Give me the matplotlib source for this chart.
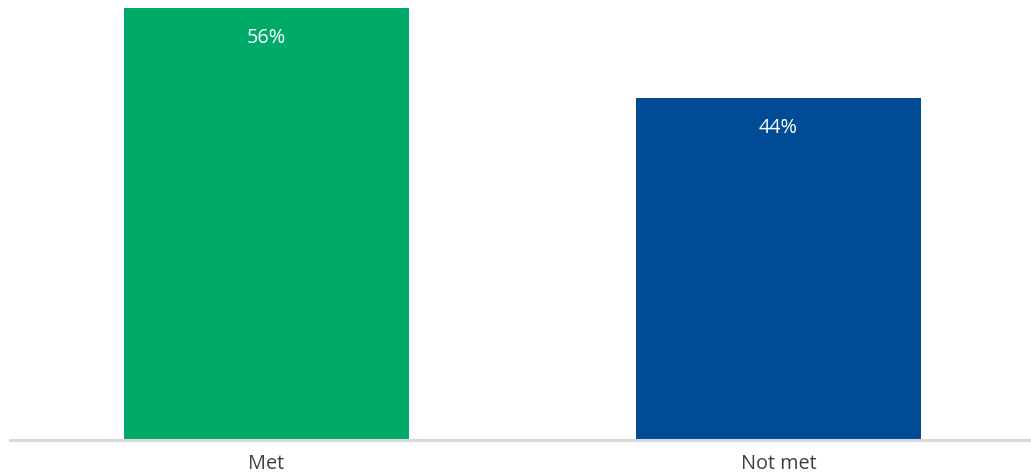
import matplotlib
matplotlib.use("Agg")
import matplotlib.pyplot as plt

categories = ["Met", "Not met"]
values = [55.8, 44.2]
colors = ["#00AB69", "#004B95"]

plt.rcParams['font.family'] = ['Open Sans', 'DejaVu Sans']

W, H = 1031, 477
fig = plt.figure(figsize=(W / 100, H / 100), dpi=100)
left = 10 / W
right = 1031 / W
bottom = (H - 440.5) / H
top = (H - 9) / H
ax = fig.add_axes([left, bottom, right - left, top - bottom])

x = list(range(len(categories)))
bars = ax.bar(x, values, width=0.557, color=colors, zorder=1)

ax.set_xlim(-0.501, 1.493)
ax.set_ylim(0, max(values))

for b, v in zip(bars, values):
    ax.annotate(f"{v:.0f}%", xy=(b.get_x() + b.get_width() / 2, v),
                xytext=(0, -21), textcoords="offset points",
                ha="center", va="center", color="white", fontsize=14.3)

ax.set_xticks(x)
ax.set_xticklabels(categories, fontsize=14.3, color="#404040")
ax.tick_params(axis="x", length=0, pad=10)
ax.set_yticks([])
for s in ["top", "left", "right"]:
    ax.spines[s].set_visible(False)
ax.spines["bottom"].set_color("#D9D9D9")
ax.spines["bottom"].set_linewidth(2.2)

fig.savefig("out.png", dpi=100)
